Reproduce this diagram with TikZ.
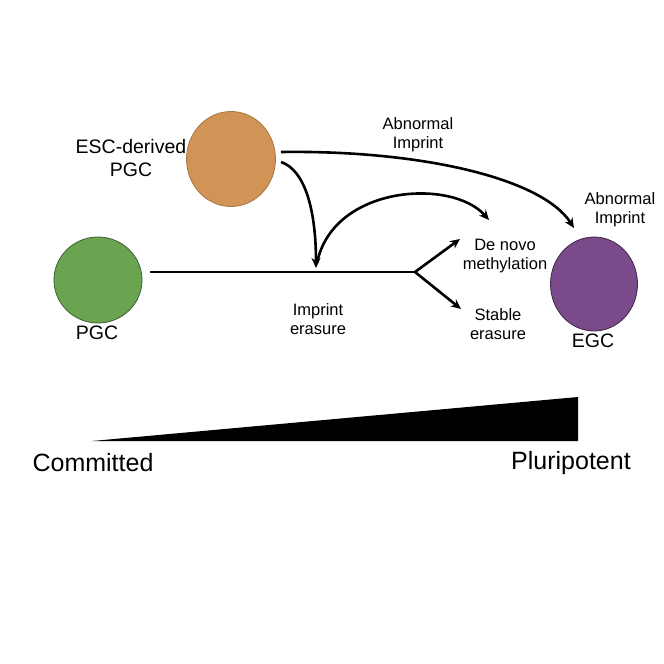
\documentclass[tikz,border=0pt]{standalone}
\usepackage{fontspec}
\setmainfont{Liberation Sans}
\usetikzlibrary{shapes.geometric,arrows.meta}
\definecolor{cOrange}{RGB}{209,148,86}
\definecolor{cGreen}{RGB}{106,164,80}
\definecolor{cPurple}{RGB}{123,74,139}
\tikzset{
  cell/.style={ellipse,draw,line width=0.8pt,minimum width=88pt,inner sep=0pt},
  lbl/.style={align=center,font=\fontsize{16.5}{19}\selectfont,inner sep=0pt},
  big/.style={align=center,font=\fontsize{19.5}{22.5}\selectfont,inner sep=0pt},
  huge/.style={font=\fontsize{25}{28}\selectfont,inner sep=0pt},
  conn/.style={line width=2.6pt},
  arr/.style={line width=2.6pt,-{Stealth[length=10pt,width=9pt]}}
}
\begin{document}
\begin{tikzpicture}[x=1pt,y=-1pt]
\useasboundingbox (0,0) rectangle (664,664);
% cells
\node[cell,fill=cOrange,draw=cOrange!80!black,minimum width=89pt,minimum height=95pt] (esc) at (231,159) {};
\node[cell,fill=cGreen,draw=cGreen!60!black,minimum width=88pt,minimum height=86pt] (pgc) at (98,280) {};
\node[cell,fill=cPurple,draw=cPurple!50!black,minimum width=87pt,minimum height=94pt] (egc) at (594,284) {};
% labels
\node[big] (escl) at (131,158) {ESC-derived\\PGC};
\node[big] (pgcl) at (97,333) {PGC};
\node[big] (egcl) at (593,341) {EGC};
\node[lbl] (ab1) at (418,135) {Abnormal\\Imprint};
\node[lbl] (ab2) at (620,210) {Abnormal\\Imprint};
\node[lbl] (dnm) at (505,256) {De novo\\methylation};
\node[lbl] (ste) at (498,324) {Stable\\erasure};
\node[lbl] (ime) at (318,319) {Imprint\\erasure};
% connector coordinates
\coordinate (start) at (150,272);
\coordinate (split) at (415,272);
\coordinate (tipUp) at (460,239);
\coordinate (tipDn) at (461,309);
\coordinate (escA) at (281,152);
\coordinate (escB) at (281,162);
\coordinate (tipLine) at (316,268);
\coordinate (arcS) at (317,263);
\coordinate (tipDnm) at (489,220);
\coordinate (tipEgc) at (574,228);
% connectors
\draw[conn] (start) -- (split);
\draw[arr] (split) -- (tipUp);
\draw[arr] (split) -- (tipDn);
\draw[arr] (escB) .. controls (305,170) and (316,210) .. (tipLine);
\draw[arr] (arcS) .. controls (333,185) and (452,178) .. (tipDnm);
\draw[arr] (escA) .. controls (420,150) and (542,178) .. (tipEgc);
% gradient wedge
\node[huge] (comm) at (93,463) {Committed};
\node[huge] (plur) at (571,463) {Pluripotent};
\coordinate (wL) at (92,441);
\coordinate (wR) at (578,441);
\coordinate (wT) at (578,397);
\fill[black] (wL) -- (wR) -- (wT) -- cycle;
\end{tikzpicture}
\end{document}
